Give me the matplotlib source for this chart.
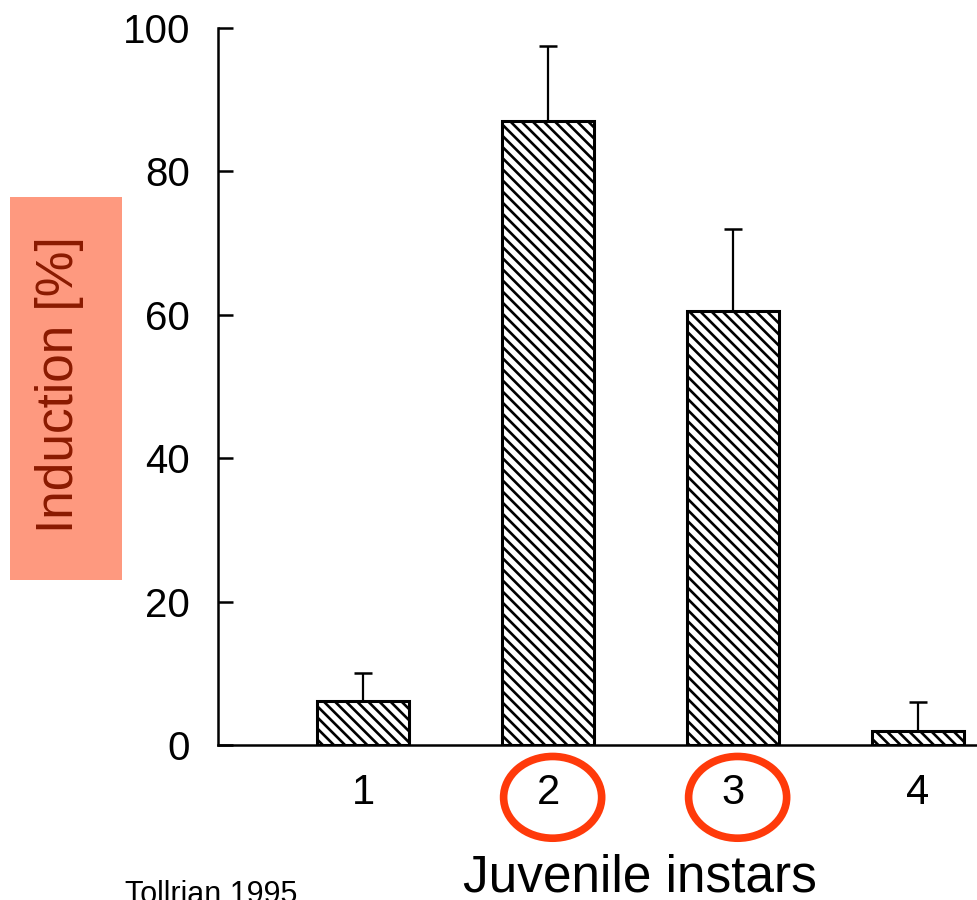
import matplotlib.pyplot as plt
from matplotlib.patches import Ellipse, Rectangle
from matplotlib.transforms import blended_transform_factory

# values (Tollrian 1995)
instars = [1, 2, 3, 4]
induction = [6.1, 87.0, 60.5, 2.0]
err_upper = [3.9, 10.5, 11.5, 4.0]
y_ticks = [0, 20, 40, 60, 80, 100]
circled = [2, 3]

plt.rcParams['font.family'] = ['Liberation Sans', 'DejaVu Sans']
plt.rcParams['hatch.linewidth'] = 1.9

fig = plt.figure(figsize=(9.77, 9.0), dpi=100)
ax = fig.add_axes([218 / 977, 1 - 745 / 900, 1 - 218 / 977, (745 - 28) / 900])

ax.bar(instars, induction, width=0.5, color='white', edgecolor='black',
       linewidth=2.2, hatch='\\\\\\', zorder=2)
ax.errorbar(instars, induction, yerr=[[0] * 4, err_upper], fmt='none',
            ecolor='black', elinewidth=1.6, capsize=6.5, capthick=1.8, zorder=1)

ax.set_xlim(0.216, 4.319)
ax.set_ylim(0, 100)
ax.set_yticks(y_ticks)
ax.set_xticks(instars)
ax.tick_params(axis='y', direction='in', length=11, width=1.8, labelsize=29, pad=20)
ax.tick_params(axis='x', length=0, labelsize=30, pad=20)
for s in ['top', 'right']:
    ax.spines[s].set_visible(False)
for s in ['left', 'bottom']:
    ax.spines[s].set_linewidth(1.8)

# red circles round the instar labels
tr = blended_transform_factory(ax.transData, ax.transAxes)
for x in circled:
    ax.add_patch(Ellipse((x + 0.025, -0.073), 0.53, 0.114, transform=tr,
                         fill=False, edgecolor='#ff3a0a', linewidth=5.5, clip_on=False))

# y label in a salmon box
fig.add_artist(Rectangle((10 / 977, 1 - 580 / 900), 112 / 977, 383 / 900,
                         transform=fig.transFigure, facecolor='#fe997f', edgecolor='none'))
fig.text(60 / 977, 1 - 385 / 900, 'Induction [%]', rotation=90, ha='center', va='center',
         fontsize=37, color='#8a1a00')

fig.text(640 / 977, 1 - 892 / 900, 'Juvenile instars', ha='center', va='baseline', fontsize=37)
fig.text(125 / 977, 1 - 903 / 900, 'Tollrian 1995', ha='left', va='baseline', fontsize=22)

fig.savefig('out.png', dpi=100)
